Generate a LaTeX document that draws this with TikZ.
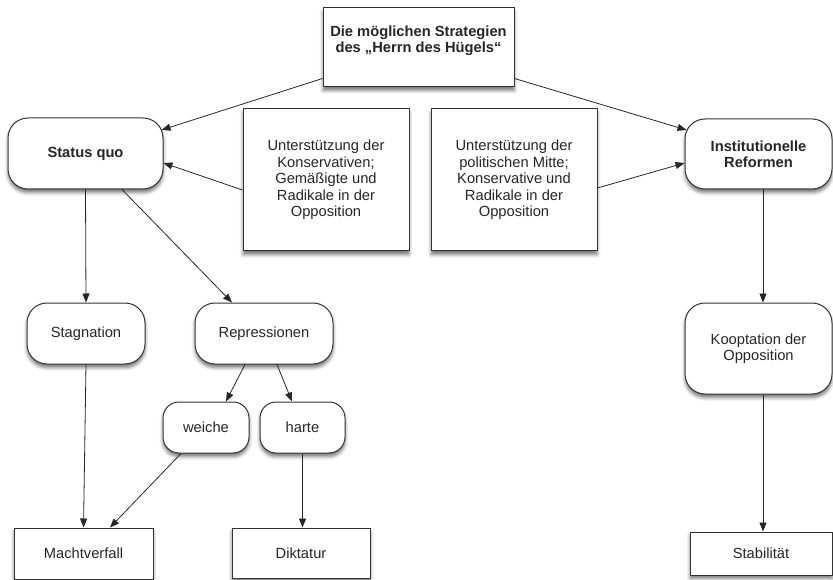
\documentclass[tikz,border=0pt]{standalone}
\usepackage{fontspec}
\setmainfont{Liberation Sans}
\usetikzlibrary{shadows.blur,arrows.meta}
\tikzset{
  box/.style={draw=black!80, line width=1pt, fill=white, inner sep=0pt, align=center,
    blur shadow={shadow xshift=0pt, shadow yshift=-3.5pt, shadow blur radius=3.5pt, shadow opacity=55},
    font=\fontsize{14.7}{16.5}\selectfont, text=black!85},
  roundbox/.style={box, rounded corners=20pt},
  smallround/.style={box, rounded corners=16pt},
  pfeil/.style={-{Triangle[length=9pt,width=7pt]}, line width=0.8pt, draw=black!85},
}
\begin{document}
\begin{tikzpicture}[x=1pt,y=-1pt]
    \useasboundingbox (0,0) rectangle (833,580);
    \node[box, minimum width=191pt, minimum height=79pt] (herr) at (418.5,47.5) {};
    \node[anchor=north, inner sep=0pt, align=center, text=black!85,
      font=\fontsize{14.7}{16.5}\selectfont\bfseries] (herrtext) at ([yshift=-18pt]herr.north)
      {Die möglichen Strategien\\des „Herrn des Hügels“};

    \node[roundbox, minimum width=155pt, minimum height=71pt, font=\fontsize{14.7}{16.5}\selectfont\bfseries] (status) at (85.5,153.5) {Status quo};
    \node[box, minimum width=166pt, minimum height=142pt] (kons) at (326,180) {Unterstützung der\\Konservativen;\\Gemäßigte und\\Radikale in der\\Opposition};
    \node[box, minimum width=166pt, minimum height=142pt] (mitte) at (514,180) {Unterstützung der\\politischen Mitte;\\Konservative und\\Radikale in der\\Opposition};
    \node[roundbox, minimum width=147pt, minimum height=70pt, font=\fontsize{14.7}{16.5}\selectfont\bfseries] (inst) at (758.5,154) {Institutionelle\\Reformen};

    \node[roundbox, minimum width=118pt, minimum height=61pt] (stagn) at (86,333.5) {Stagnation};
    \node[roundbox, minimum width=138pt, minimum height=61pt] (repr) at (264,333.5) {Repressionen};
    \node[smallround, minimum width=86pt, minimum height=51pt] (weiche) at (206,427.5) {weiche};
    \node[smallround, minimum width=85pt, minimum height=51pt] (harte) at (302.5,427.5) {harte};
    \node[roundbox, minimum width=147pt, minimum height=91pt] (koopt) at (758.5,348.5) {Kooptation der\\Opposition};

    \node[box, minimum width=139pt, minimum height=51pt] (macht) at (83.5,553.5) {Machtverfall};
    \node[box, minimum width=138pt, minimum height=50pt] (dikt) at (301,553) {Diktatur};
    \node[box, minimum width=142pt, minimum height=43pt] (stab) at (761,553.5) {Stabilität};

    \draw[pfeil] ([yshift=9pt]herr.south west) -- ([xshift=-2pt,yshift=23.5pt]status.east);
    \draw[pfeil] ([yshift=9pt]herr.south east) -- ([xshift=2pt,yshift=24pt]inst.west);
    \draw[pfeil] ([yshift=-10pt]kons.west) -- ([yshift=-9.5pt]status.east);
    \draw[pfeil] ([yshift=-8pt]mitte.east) -- ([yshift=-9pt]inst.west);
    \draw[pfeil] (status.south) -- (stagn.north);
    \draw[pfeil] ([xshift=36.5pt]status.south) -- ([xshift=-32pt]repr.north);
    \draw[pfeil] ([xshift=-19pt]repr.south) -- ([xshift=20pt]weiche.north);
    \draw[pfeil] ([xshift=13pt]repr.south) -- ([xshift=-10.5pt]harte.north);
    \draw[pfeil] (stagn.south) -- (macht.north);
    \draw[pfeil] ([xshift=-25pt]weiche.south) -- ([xshift=26.5pt]macht.north);
    \draw[pfeil] (harte.south) -- (harte.south |- dikt.north);
    \draw[pfeil] ([xshift=4.5pt]inst.south) -- ([xshift=4.5pt]koopt.north);
    \draw[pfeil] ([xshift=4.5pt]koopt.south) -- ([xshift=2pt]stab.north);
\end{tikzpicture}
\end{document}
